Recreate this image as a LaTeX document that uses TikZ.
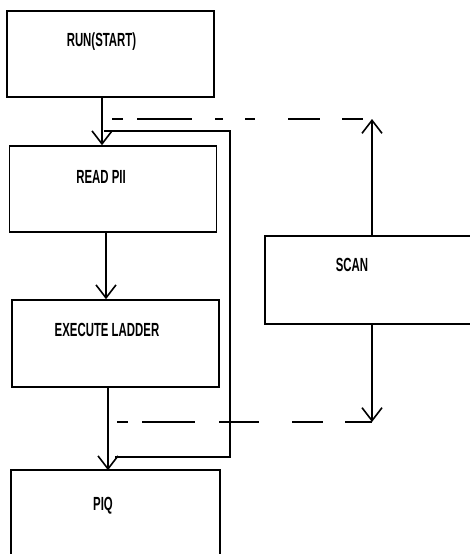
\documentclass[tikz,border=0pt]{standalone}
\usepackage{fontspec}
\newfontfamily\blockfont[FakeStretch=0.6]{Liberation Sans}
\usepackage{tikz}
\usetikzlibrary{arrows.meta, positioning, calc}

\begin{document}
\begin{tikzpicture}[x=1pt, y=-1pt, line width=1.6pt,
  stage/.style={draw, minimum width=207pt, minimum height=86pt, inner sep=0pt},
  tag/.style={font=\blockfont\bfseries\fontsize{19}{19}\selectfont, inner sep=0pt, text height=13.5pt, text depth=0pt},
  topdash/.style={dash pattern=on 11pt off 14pt on 55pt off 23pt on 8pt off 22pt on 10pt off 33pt on 32pt off 22pt on 21pt off 20pt},
  botdash/.style={dash pattern=on 11pt off 14pt on 53pt off 24pt on 40pt off 33pt on 31pt off 22pt on 27pt off 20pt},
  >={Straight Barb[length=13pt, width=20pt]}]
  \useasboundingbox (0,0) rectangle (469,554);
  % blocks
  \node[stage] (run) at (110.5,54) {};
  \node[stage] (read) at (113,189) {};
  \node[stage, minimum height=87pt] (exec) at (115.5,343.5) {};
  % these two run off the picture's edge
  \node[stage, draw=none, minimum height=84pt] (piq) at (115.5,513) {};
  \node[stage, draw=none, minimum width=203pt] (scan) at (367.5,280) {};
  \draw (piq.south west) |- (piq.north east) -- (piq.south east);
  \draw (scan.north east) -| (scan.south west) -- (scan.south east);
  \node[tag] (runtag) at (101.5,40) {RUN(START)};
  \node[tag] (readtag) at (101,177) {READ PII};
  \node[tag] (exectag) at (107,330) {EXECUTE LADDER};
  \node[tag] (piqtag) at (103,504) {PIQ};
  \node[tag] (scantag) at (352,265) {SCAN};
  % main flow
  \draw[->] ([xshift=-8.5pt]run.south) -- ([xshift=-8.5pt]run.south |- read.north);
  \draw[->] ([xshift=-7pt]read.south) -- ([xshift=-7pt]read.south |- exec.north);
  \draw[->] ([xshift=-7.5pt]exec.south) -- ([xshift=-7.5pt]exec.south |- piq.north);
  % loop back
  \coordinate (loopbot) at (115,457);
  \coordinate (looptop) at (104,131);
  \coordinate (loopturn) at (230,131);
  \draw (loopbot) -| (loopturn) -- (looptop);
  % scan
  \coordinate (scanup) at (372,119);
  \coordinate (scandown) at (372,422);
  \draw[->] (scan.north -| scanup) -- (scanup);
  \draw[->] (scan.south -| scandown) -- (scandown);
  \coordinate (dashtop) at (112,119);
  \coordinate (dashbot) at (117,422);
  \draw[topdash] (dashtop) -- (scanup);
  \draw[botdash] (dashbot) -- (scandown);
\end{tikzpicture}
\end{document}
